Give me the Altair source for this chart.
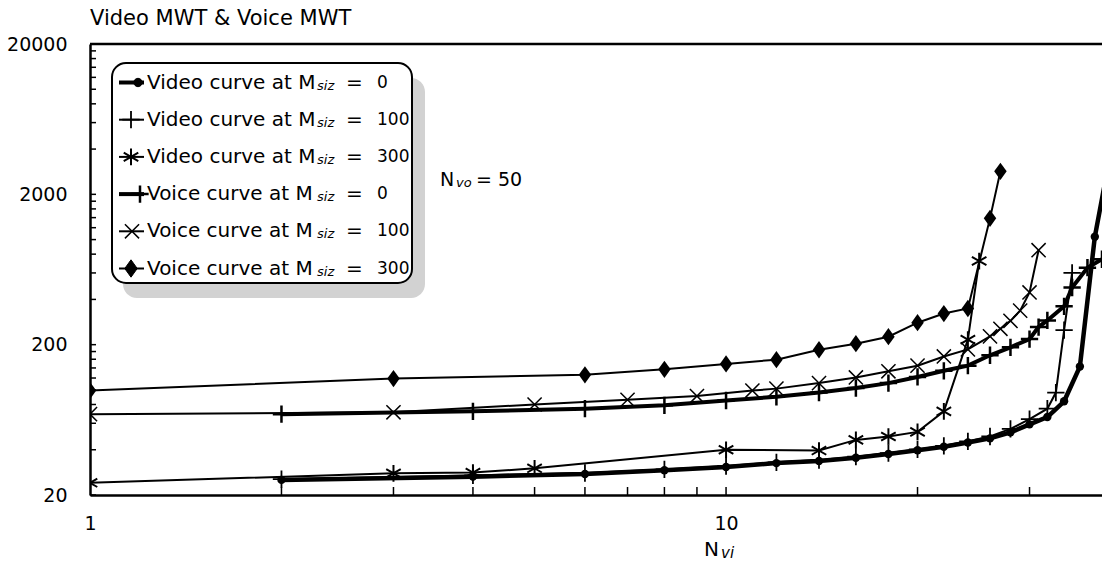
import altair as alt
import pandas as pd

# ---------------- data ----------------
video0_x = [2, 4, 6, 8, 10, 12, 14, 16, 18, 20, 22, 24, 26, 28, 30, 32, 34, 36, 38, 40]
video0_y = [25.2, 26.5, 27.6, 29.2, 30.7, 32.6, 33.7, 35.4, 37.5, 39.7, 41.9, 44.7, 47.6, 52.2, 59, 66, 84, 143, 1045, 3300]

video100_x = [2, 4, 6, 8, 10, 12, 14, 16, 18, 20, 22, 24, 26, 28, 30, 32, 33, 34, 35]
video100_y = [25.5, 27, 28, 29.6, 31.2, 33, 34.2, 36, 38, 40.2, 42.5, 45.5, 49, 55, 64, 75, 96, 250, 600]

video300_x = [1, 3, 4, 5, 10, 14, 16, 18, 20, 22, 24, 25]
video300_y = [24.1, 27.9, 28.2, 30.1, 40, 39.5, 46.5, 49, 52.6, 72, 216, 720]

voice0_x = [2, 4, 6, 8, 10, 12, 14, 16, 18, 20, 22, 24, 26, 28, 30, 31, 32, 34, 35, 37, 39]
voice0_y = [69, 72, 75, 79, 85, 90, 96, 103, 111, 122, 134, 145, 170, 192, 218, 262, 290, 360, 480, 650, 740]

voice100_x = [1, 3, 5, 7, 9, 11, 12, 14, 16, 18, 20, 22, 24, 26, 27, 28, 29, 30, 31]
voice100_y = [69, 71, 80, 86, 91, 99, 102, 111, 121, 133, 145, 167, 186, 227, 255, 288, 337, 445, 850]

voice300_x = [1, 3, 6, 8, 10, 12, 14, 16, 18, 20, 22, 24, 26, 27]
voice300_y = [99, 119, 126, 137, 149, 159, 185, 203, 226, 280, 322, 348, 1384, 2846]

series_keys = ["video0", "video100", "video300", "voice0", "voice100", "voice300"]
legend_labels = ["Video curve at M", "Video curve at M", "Video curve at M",
                 "Voice curve at M", "Voice curve at M", "Voice curve at M"]
legend_values = ["0", "100", "300", "0", "100", "300"]

x_label_values = [1, 10]
x_tick_values = [2, 3, 4, 5, 6, 7, 8, 9, 10, 20, 30]
y_label_values = [20, 200, 2000, 20000]
y_tick_values = ([20 * k for k in range(1, 10)] + [200 * k for k in range(1, 10)]
                 + [2000 * k for k in range(1, 10)])

title_text = "Video MWT & Voice MWT"

# ---------------- styles ----------------
PLUS = "M-1,0L1,0M0,-1L0,1"
AST = "M0,-1L0,1M-0.87,-0.5L0.87,0.5M-0.87,0.5L0.87,-0.5"
XSH = "M-1,-1L1,1M-1,1L1,-1"
DIA = "M0,-1L0.72,0L0,1L-0.72,0Z"

styles = {
    "video0":   dict(lw=4.5, shape="circle", size=70, filled=True, sw=1),
    "video100": dict(lw=2.0, shape=PLUS, size=300, filled=False, sw=1.8),
    "video300": dict(lw=2.0, shape=AST, size=280, filled=False, sw=2.0),
    "voice0":   dict(lw=4.0, shape=PLUS, size=300, filled=False, sw=2.5),
    "voice100": dict(lw=2.0, shape=XSH, size=200, filled=False, sw=1.5),
    "voice300": dict(lw=2.0, shape=DIA, size=300, filled=True, sw=1),
}

data_map = {
    "video0": (video0_x, video0_y), "video100": (video100_x, video100_y),
    "video300": (video300_x, video300_y), "voice0": (voice0_x, voice0_y),
    "voice100": (voice100_x, voice100_y), "voice300": (voice300_x, voice300_y),
}
rows = []
for key in series_keys:
    xs, ys = data_map[key]
    for i, (a, b) in enumerate(zip(xs, ys)):
        rows.append({"series": key, "x": a, "y": b, "order": i})
df = pd.DataFrame(rows)

W, H = 1012, 451
FONT = "DejaVu Sans"

xscale = alt.Scale(type="log", domain=[1, 39], nice=False)
yscale = alt.Scale(type="log", domain=[20, 20000], nice=False)
xaxis = alt.Axis(values=x_label_values, ticks=False, grid=False, domainColor="black",
                 domainWidth=2.5, labelFont=FONT, labelFontSize=19, labelColor="black",
                 labelPadding=19, labelExpr="format(datum.value, 'd')", title=None,
                 labelFlush=False, labelOverlap=False)
yaxis = alt.Axis(values=y_label_values, ticks=False, grid=False, domainColor="black",
                 domainWidth=2.5, labelFont=FONT, labelFontSize=19, labelColor="black",
                 labelPadding=23, labelExpr="format(datum.value, 'd')", title=None,
                 labelFlush=False, labelOverlap=False)

base = alt.Chart(df)
layers = []
for key in series_keys:
    st = styles[key]
    sub = base.transform_filter(alt.datum.series == key)
    enc = dict(x=alt.X("x:Q", scale=xscale, axis=xaxis),
               y=alt.Y("y:Q", scale=yscale, axis=yaxis))
    layers.append(sub.mark_line(color="black", strokeWidth=st["lw"], clip=True)
                  .encode(order="order:Q", **enc))
    layers.append(sub.mark_point(shape=st["shape"], size=st["size"], filled=st["filled"],
                                 color="black", strokeWidth=st["sw"], opacity=1, clip=True)
                  .encode(**enc))

# inside ticks
xt = alt.Chart(pd.DataFrame({"t": x_tick_values})).mark_rule(color="black", strokeWidth=1.5).encode(
    x=alt.X("t:Q", scale=xscale, axis=xaxis), y=alt.value(H), y2=alt.value(H - 8))
yt = alt.Chart(pd.DataFrame({"t": y_tick_values})).mark_rule(color="black", strokeWidth=1.5).encode(
    y=alt.Y("t:Q", scale=yscale, axis=yaxis), x=alt.value(0), x2=alt.value(6))
one = alt.Chart(pd.DataFrame({"a": [0]}))
top_border = one.mark_rule(color="black", strokeWidth=2.5).encode(
    x=alt.value(0), x2=alt.value(W), y=alt.value(0))

# title and annotations
title = one.mark_text(align="left", baseline="alphabetic", font=FONT, fontSize=21, color="black").encode(
    x=alt.value(0), y=alt.value(-19), text=alt.value(title_text))
ann_n = one.mark_text(align="left", baseline="middle", font=FONT, fontSize=19, color="black").encode(
    x=alt.value(350), y=alt.value(136), text=alt.value("N"))
ann_sub = one.mark_text(align="left", baseline="middle", font=FONT, fontSize=13, fontStyle="italic", color="black").encode(
    x=alt.value(366), y=alt.value(139), text=alt.value("vo"))
ann_eq = one.mark_text(align="left", baseline="middle", font=FONT, fontSize=19, color="black").encode(
    x=alt.value(386), y=alt.value(136), text=alt.value("= 50"))
xt_n = one.mark_text(align="left", baseline="middle", font=FONT, fontSize=20, color="black").encode(
    x=alt.value(614), y=alt.value(506), text=alt.value("N"))
xt_sub = one.mark_text(align="left", baseline="middle", font=FONT, fontSize=15, fontStyle="italic", color="black").encode(
    x=alt.value(631), y=alt.value(509), text=alt.value("vi"))

# legend
leg = pd.DataFrame({
    "row": list(range(6)),
    "label": legend_labels,
    "val": legend_values,
    "shape": [styles[k]["shape"] for k in series_keys],
    "lw": [styles[k]["lw"] if styles[k]["lw"] < 3 else 4.0 for k in series_keys],
    "sw": [styles[k]["sw"] for k in series_keys],
    "msize": [styles[k]["size"] for k in series_keys],
    "fill": ["black" if styles[k]["filled"] else "transparent" for k in series_keys],
    "mx": [48, 41, 41, 50, 42, 41],
})
legc = alt.Chart(leg).transform_calculate(ly="38.5 + 37.2 * datum.row")
ly = alt.Y("ly:Q", scale=None, axis=None)
shadow = one.mark_rect(cornerRadius=14, color="#d2d2d2").encode(
    x=alt.value(33), x2=alt.value(335), y=alt.value(34), y2=alt.value(254))
box = one.mark_rect(cornerRadius=14, fill="white", stroke="black", strokeWidth=2).encode(
    x=alt.value(22), x2=alt.value(322), y=alt.value(19), y2=alt.value(239))
leg_line = legc.mark_rule(color="black").encode(
    x=alt.value(29), x2=alt.value(54), y=ly, strokeWidth=alt.StrokeWidth("lw:Q", scale=None))
leg_pt = legc.mark_point(color="black", opacity=1).encode(
    x=alt.X("mx:Q", scale=None, axis=None), y=ly,
    shape=alt.Shape("shape:N", scale=None), size=alt.Size("msize:Q", scale=None),
    fill=alt.Fill("fill:N", scale=None), strokeWidth=alt.StrokeWidth("sw:Q", scale=None))
leg_txt = legc.mark_text(align="left", baseline="middle", font=FONT, fontSize=20, color="black").encode(
    x=alt.value(57), y=ly, text="label:N")
leg_sub = legc.mark_text(align="left", baseline="middle", font=FONT, fontSize=13, fontStyle="italic",
                         color="black", dy=3).encode(x=alt.value(227), y=ly, text=alt.value("siz"))
leg_eq = legc.mark_text(align="left", baseline="middle", font=FONT, fontSize=20, color="black").encode(
    x=alt.value(256), y=ly, text=alt.value("="))
leg_val = legc.mark_text(align="left", baseline="middle", font=FONT, fontSize=17, color="black").encode(
    x=alt.value(287), y=ly, text="val:N")

chart = alt.layer(
    *layers, xt, yt, top_border, title, ann_n, ann_sub, ann_eq, xt_n, xt_sub,
    shadow, box, leg_line, leg_pt, leg_txt, leg_sub, leg_eq, leg_val
).properties(
    width=W, height=H,
    autosize=alt.AutoSizeParams(type="none"),
    padding={"left": 90, "top": 44, "right": 0, "bottom": 74},
).configure_view(stroke=None).configure(background="white")

chart.save("out.html", embed_options={"renderer": "svg", "actions": False})
